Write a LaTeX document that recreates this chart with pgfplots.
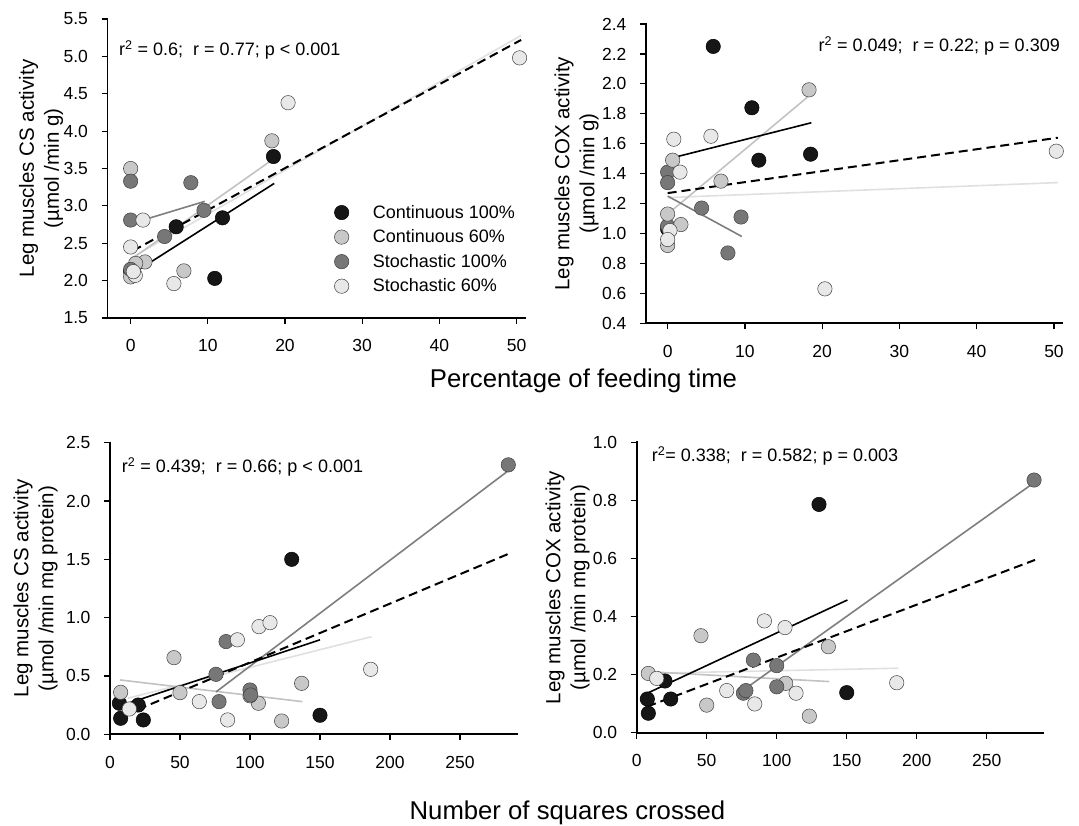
\documentclass[border=0pt]{standalone}
\usepackage{fontspec}
\setmainfont{Liberation Sans}
\usepackage{pgfplots}
\pgfplotsset{compat=1.18}

\definecolor{cCa}{HTML}{161616}
\definecolor{cCb}{HTML}{C8C8C8}
\definecolor{cSa}{HTML}{777777}
\definecolor{cSb}{HTML}{E8E8E8}
\definecolor{lCb}{HTML}{C2C2C2}
\definecolor{lSa}{HTML}{7E7E7E}
\definecolor{lSb}{HTML}{E0E0E0}

\newcommand\tickfont{\fontsize{17.5}{20}\selectfont}
\newcommand\labfont{\fontsize{20.5}{25}\selectfont}
\newcommand\txtfont{\fontsize{18}{21}\selectfont}
\newcommand\bigfont{\fontsize{25.7}{30}\selectfont}

\pgfplotsset{
  panel/.style={
    scale only axis, clip=false,
    axis x line*=bottom, axis y line*=left,
    axis line style={-, line width=1.8pt, line cap=rect},
    tick align=outside, major tick length=6pt,
    major tick style={black, line width=1.2pt},
    tick label style={font=\tickfont},
    /pgf/number format/assume math mode=true,
    xticklabel style={yshift=-12pt},
    yticklabel style={xshift=-10pt, /pgf/number format/.cd, fixed, fixed zerofill, precision=1},
    ylabel style={font=\labfont, align=center, anchor=center},
  },
  pC100/.style={only marks, mark=*, mark size=7.2pt, mark options={fill=cCa, draw=black, line width=0.5pt}},
  pC60/.style={only marks, mark=*, mark size=7.2pt, mark options={fill=cCb, draw=black!75, line width=0.5pt}},
  pS100/.style={only marks, mark=*, mark size=7.2pt, mark options={fill=cSa, draw=black!75, line width=0.5pt}},
  pS60/.style={only marks, mark=*, mark size=7.2pt, mark options={fill=cSb, draw=black!75, line width=0.5pt}},
  fAll/.style={forget plot, no marks, black, line width=2pt, dash pattern=on 9pt off 5pt},
  fC100/.style={forget plot, no marks, black, line width=1.6pt},
  fC60/.style={forget plot, no marks, lCb, line width=1.6pt},
  fS100/.style={forget plot, no marks, lSa, line width=1.6pt},
  fS60/.style={forget plot, no marks, lSb, line width=1.6pt},
}

\begin{document}
\begin{tikzpicture}
\path[use as bounding box] (0pt,0pt) rectangle (1079pt,826pt);

% ---- top left: CS per g vs feeding time
\begin{axis}[panel, at={(107.5pt,508pt)}, anchor=south west,
  width=417.5pt, height=299pt,
  xmin=-3, xmax=51.1, ymin=1.5, ymax=5.5,
  xtick={0,10,20,30,40,50}, ytick={1.5,2,2.5,3,3.5,4,4.5,5,5.5},
  ylabel={Leg muscles CS activity\\(µmol /min g)},
  ylabel style={at={(axis description cs:-0.159,0.5)}},
  legend cell align=left,
  legend style={draw=none, fill=none, font=\txtfont, at={(0.536,0.391)}, anchor=north west,
    row sep=6pt, nodes={inner sep=2pt},
    /tikz/every odd column/.append style={column sep=22pt}},
]
\addplot[fS60] coordinates {(0,2.30) (50.6,5.28)};
\addplot[fC60] coordinates {(0,2.28) (18.4,3.62)};
\addplot[fS100] coordinates {(1.6,2.81) (9.6,3.06)};
\addplot[fC100] coordinates {(0.35,2.10) (18.6,3.30)};
\addplot[fAll] coordinates {(0.3,2.40) (50.6,5.22)};
\addplot[pC100] coordinates {(5.9,2.72) (11.9,2.84) (18.5,3.66) (10.9,2.03) (0,2.12)};
\addplot[pC60] coordinates {(0,3.50) (18.3,3.87) (6.9,2.13) (1.85,2.25) (0,2.05) (0.65,2.23)};
\addplot[pS100] coordinates {(0,3.33) (0,2.81) (7.8,3.31) (9.5,2.94) (4.4,2.59) (0,2.15)};
\addplot[pS60] coordinates {(1.6,2.81) (0,2.45) (20.4,4.38) (50.4,4.98) (5.6,1.96) (0.6,2.07) (0.35,2.12)};
\legend{Continuous 100\%, Continuous 60\%, Stochastic 100\%, Stochastic 60\%}
\end{axis}

% ---- top right: COX per g vs feeding time
\begin{axis}[panel, at={(646pt,502.7pt)}, anchor=south west,
  width=415.7pt, height=299.3pt,
  xmin=-2.8, xmax=51, ymin=0.4, ymax=2.4,
  xtick={0,10,20,30,40,50}, ytick={0.4,0.6,0.8,1,1.2,1.4,1.6,1.8,2,2.2,2.4},
  ylabel={Leg muscles COX activity\\(µmol /min g)},
  ylabel style={at={(axis description cs:-0.167,0.5)}},
]
\addplot[fS60] coordinates {(0,1.24) (50.5,1.34)};
\addplot[fC60] coordinates {(0,1.13) (18.3,1.92)};
\addplot[fS100] coordinates {(0,1.25) (9.6,0.98)};
\addplot[fC100] coordinates {(0.95,1.51) (18.6,1.74)};
\addplot[fAll] coordinates {(0,1.27) (50.5,1.64)};
\addplot[pC100] coordinates {(5.9,2.25) (10.9,1.84) (11.8,1.49) (18.5,1.53) (0,1.03)};
\addplot[pS100] coordinates {(0,1.41) (0,1.34) (4.4,1.17) (9.5,1.11) (7.8,0.87) (0,1.05)};
\addplot[pC60] coordinates {(18.3,1.96) (0.65,1.49) (6.9,1.35) (0,1.13) (0,0.92) (1.72,1.06)};
\addplot[pS60] coordinates {(50.3,1.55) (20.35,0.63) (5.6,1.65) (0.8,1.63) (1.6,1.41) (0.3,1.02) (0,0.96)};
\end{axis}

% ---- bottom left: CS per mg protein vs squares crossed
\begin{axis}[panel, at={(110pt,91.7pt)}, anchor=south west,
  width=406.7pt, height=291.6pt,
  xmin=0, xmax=290.5, ymin=0, ymax=2.5,
  xtick={0,50,100,150,200,250}, ytick={0,0.5,1,1.5,2,2.5},
  ylabel={Leg muscles CS activity\\(µmol /min mg protein)},
  ylabel style={at={(axis description cs:-0.183,0.5)}},
]
\addplot[fS60] coordinates {(12.9,0.31) (186.9,0.837)};
\addplot[fC60] coordinates {(7.1,0.466) (137.4,0.28)};
\addplot[fS100] coordinates {(75.7,0.363) (284.5,2.26)};
\addplot[fC100] coordinates {(10.7,0.257) (150,0.81)};
\addplot[fAll] coordinates {(10.7,0.166) (285.2,1.55)};
\addplot[pC100] coordinates {(129.8,1.50) (150,0.163) (6.7,0.266) (7.6,0.137) (20.2,0.251) (23.8,0.123)};
\addplot[pC60] coordinates {(7.6,0.36) (45.7,0.657) (50,0.357) (136.9,0.437) (122.6,0.114) (106,0.266) (100,0.33)};
\addplot[pS100] coordinates {(284.5,2.31) (82.9,0.795) (75.7,0.514) (77.9,0.28) (100,0.38) (100.5,0.337)};
\addplot[pS60] coordinates {(13.8,0.217) (63.8,0.28) (84,0.123) (91,0.81) (106.4,0.923) (114.3,0.957) (186.2,0.557)};
\end{axis}

% ---- bottom right: COX per mg protein vs squares crossed
\begin{axis}[panel, at={(636.7pt,93.3pt)}, anchor=south west,
  width=406.6pt, height=290.4pt,
  xmin=0, xmax=290.4, ymin=0, ymax=1,
  xtick={0,50,100,150,200,250}, ytick={0,0.2,0.4,0.6,0.8,1},
  ylabel={Leg muscles COX activity\\(µmol /min mg protein)},
  ylabel style={at={(axis description cs:-0.170,0.5)}},
]
\addplot[fS60] coordinates {(14.3,0.205) (186.9,0.222)};
\addplot[fC60] coordinates {(8.3,0.21) (137.6,0.176)};
\addplot[fS100] coordinates {(78,0.153) (283.8,0.861)};
\addplot[fC100] coordinates {(7.6,0.136) (150.5,0.457)};
\addplot[fAll] coordinates {(7.6,0.09) (284.5,0.595)};
\addplot[pC100] coordinates {(130.2,0.786) (150,0.138) (7.6,0.116) (8.3,0.067) (20.2,0.178) (24.3,0.116)};
\addplot[pC60] coordinates {(8.3,0.204) (45.9,0.334) (50,0.095) (136.9,0.296) (123.3,0.057) (106.4,0.17)};
\addplot[pS100] coordinates {(283.8,0.87) (83.3,0.25) (100,0.231) (100,0.158) (76.2,0.136) (78,0.145)};
\addplot[pS60] coordinates {(14.3,0.187) (64.3,0.145) (84.3,0.099) (91.2,0.385) (105.9,0.362) (113.8,0.136) (185.7,0.172)};
\end{axis}

% statistics and shared axis titles
\node[anchor=base west, font=\txtfont, inner sep=0pt] at (119pt,770pt) {r\textsuperscript{2} = 0.6;\ \ r = 0.77; p < 0.001};
\node[anchor=base east, font=\txtfont, inner sep=0pt] at (1060pt,774.3pt) {r\textsuperscript{2} = 0.049;\ \ r = 0.22; p = 0.309};
\node[anchor=base west, font=\txtfont, inner sep=0pt] at (121.7pt,353.3pt) {r\textsuperscript{2} = 0.439;\ \ r = 0.66; p < 0.001};
\node[anchor=base west, font=\txtfont, inner sep=0pt] at (651.7pt,364.3pt) {r\textsuperscript{2}= 0.338;\ \ r = 0.582; p = 0.003};
\node[anchor=base, font=\bigfont, inner sep=0pt] at (583.5pt,438.5pt) {Percentage of feeding time};
\node[anchor=base, font=\bigfont, inner sep=0pt] at (567.5pt,6pt) {Number of squares crossed};
\end{tikzpicture}
\end{document}
